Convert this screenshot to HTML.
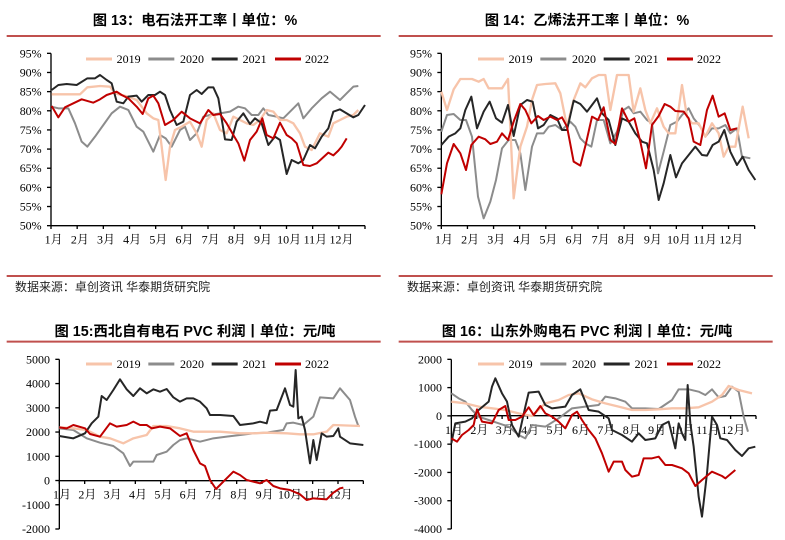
<!DOCTYPE html>
<html><head><meta charset="utf-8">
<style>
html,body{margin:0;padding:0;background:#fff;}
svg{display:block;}
text{font-family:"Liberation Serif","Noto Serif CJK SC",serif;fill:#000;}
.t{font-family:"Liberation Sans","Noto Sans CJK SC",sans-serif;font-weight:bold;font-size:43px;}
.s{font-family:"Liberation Sans","Noto Sans CJK SC",sans-serif;font-size:36px;fill:#222;}
.tk{font-size:36px;}
</style></head><body>
<svg id="s" width="785" height="540" viewBox="0 0 785 540" xmlns="http://www.w3.org/2000/svg"></svg>
<script>
const NS="http://www.w3.org/2000/svg";
const S=document.getElementById('s');
const C={a:"#f7c4aa",b:"#8c8c8c",c:"#262626",d:"#c00000"};
function el(p,n,at,txt){const e=document.createElementNS(NS,n);for(const k in at)e.setAttribute(k,at[k]);if(txt!=null)e.textContent=txt;p.appendChild(e);return e;}
function panel(o){
 const g=el(S,'g',{transform:`translate(${o.ox},${o.oy}) scale(0.33333)`});
 el(g,'text',{x:585,y:o.ty,'text-anchor':'middle',class:'t'},o.title);
 el(g,'line',{x1:20,x2:1142,y1:o.ly,y2:o.ly,stroke:'#c0504d','stroke-width':6});
 if(o.src){el(g,'line',{x1:20,x2:1142,y1:828,y2:828,stroke:'#c0504d','stroke-width':6});
  el(g,'text',{x:45,y:873,class:'s'},'数据来源：卓创资讯 华泰期货研究院');}
 el(g,'line',{x1:o.ax,x2:o.ax,y1:o.y0,y2:o.y1,stroke:'#000','stroke-width':4});
 for(let i=0;i<o.yl.length;i++){const y=o.y0+(o.y1-o.y0)*i/(o.yl.length-1);
  el(g,'line',{x1:o.ax-12,x2:o.ax,y1:y,y2:y,stroke:'#000','stroke-width':4});
  el(g,'text',{x:o.ax-28,y:y+12,'text-anchor':'end',class:'tk'},o.yl[i]);}
 el(g,'line',{x1:o.ax,x2:o.xr,y1:o.xy,y2:o.xy,stroke:'#000','stroke-width':4});
 const sp=(o.xr-o.ax)/12;
 for(let i=0;i<=12;i++){const x=o.ax+sp*i;el(g,'line',{x1:x,x2:x,y1:o.xy,y2:o.xy+10,stroke:'#000','stroke-width':4});}
 for(let i=0;i<12;i++){el(g,'text',{x:o.ax+sp*i+8,y:o.ml,'text-anchor':'middle',class:'tk'},(i+1)+'月');}
 const L=[[258,350,'a','2019'],[445,540,'b','2020'],[635,728,'c','2021'],[825,915,'d','2022']];
 for(const [x,tx,c,n] of L){el(g,'line',{x1:x,x2:x+78,y1:o.lg,y2:o.lg,stroke:C[c],'stroke-width':9});
  el(g,'text',{x:tx,y:o.lg+12,class:'tk'},n);}
 for(const k of ['b','a','c','d']){const pts=o.d[k].map(p=>p.join(',')).join(' ');
  el(g,'polyline',{points:pts,fill:'none',stroke:C[k],'stroke-width':k=='a'?7:6,'stroke-linejoin':'round'});}
}
const P=s=>s.trim().split(/\)\s*,?\s*\(/).map(t=>t.replace(/[()]/g,'').split(',').map(Number));
panel({ox:0,oy:0,ty:75,ly:108,src:1,title:'图 13：电石法开工率丨单位：%',ax:153,y0:160,y1:677,xy:677,xr:1095,ml:730,lg:177,
 yl:['95%','90%','85%','80%','75%','70%','65%','60%','55%','50%'],
 d:{a:P('(155,283),(200,283),(240,283),(262,262),(300,258),(330,260),(345,280),(385,290),(410,300),(440,340),(460,355),(475,360),(485,440),(497,540),(510,440),(525,390),(545,380),(570,365),(590,400),(605,440),(620,360),(640,340),(660,390),(680,400),(700,350),(720,360),(740,370),(760,375),(780,360),(800,330),(820,335),(840,360),(860,360),(880,370),(900,400),(915,440),(935,450),(960,400),(985,410),(1000,370),(1020,360),(1040,350),(1060,345),(1075,330)'),
 b:P('(155,320),(175,325),(205,325),(225,370),(245,425),(262,440),(285,410),(310,375),(335,340),(360,320),(385,330),(410,380),(430,395),(460,455),(480,405),(497,415),(515,440),(540,390),(555,380),(570,420),(590,400),(610,350),(630,345),(660,340),(690,335),(715,320),(735,325),(755,345),(775,345),(790,325),(805,345),(830,350),(850,355),(870,335),(895,310),(910,355),(935,325),(965,295),(990,275),(1020,300),(1040,280),(1060,260),(1075,258)'),
 c:P('(155,270),(175,255),(200,252),(230,255),(262,235),(285,235),(300,225),(320,240),(335,250),(350,305),(370,310),(385,290),(410,287),(425,305),(445,285),(465,285),(480,275),(495,285),(510,330),(530,375),(550,365),(570,285),(590,270),(605,282),(625,262),(640,262),(655,295),(675,418),(695,420),(710,365),(730,340),(750,372),(765,355),(785,370),(805,435),(825,410),(840,420),(860,522),(875,480),(895,490),(910,480),(930,435),(945,445),(965,410),(985,385),(1000,335),(1020,328),(1040,340),(1060,352),(1075,345),(1095,315)'),
 d:P('(155,318),(175,352),(195,322),(220,310),(245,298),(280,308),(300,298),(320,285),(350,275),(365,285),(385,295),(410,320),(428,342),(445,295),(460,287),(475,310),(495,375),(520,360),(545,335),(570,355),(600,370),(625,330),(640,345),(660,342),(680,370),(700,405),(715,430),(733,482),(750,420),(770,395),(787,355),(800,405),(820,415),(840,368),(860,405),(875,415),(890,430),(910,495),(930,498),(950,490),(985,458),(1000,466),(1015,452),(1025,440),(1040,415)')}});
panel({ox:392,oy:0,ty:75,ly:108,src:1,title:'图 14：乙烯法开工率丨单位：%',ax:148,y0:160,y1:677,xy:677,xr:1088,ml:730,lg:177,
 yl:['95%','90%','85%','80%','75%','70%','65%','60%','55%','50%'],
 d:{a:P('(148,275),(165,330),(185,268),(205,237),(240,237),(260,245),(275,237),(290,265),(330,265),(348,237),(365,595),(385,440),(405,380),(420,300),(435,255),(460,252),(490,250),(505,280),(525,380),(545,300),(565,250),(580,262),(600,235),(620,225),(640,225),(655,330),(675,225),(710,225),(725,335),(745,265),(760,330),(775,370),(795,325),(815,380),(830,400),(850,400),(870,255),(885,350),(900,370),(920,370),(940,410),(960,370),(980,400),(995,470),(1010,440),(1030,440),(1052,320),(1070,415)'),
 b:P('(148,395),(165,345),(185,342),(205,360),(222,360),(240,410),(258,590),(275,655),(295,605),(312,540),(330,445),(350,420),(370,420),(385,460),(400,570),(420,440),(435,400),(455,400),(470,380),(490,375),(510,390),(535,365),(550,380),(565,415),(580,430),(598,440),(615,360),(635,360),(655,430),(675,395),(695,330),(710,320),(725,340),(745,335),(765,360),(780,370),(798,520),(815,455),(835,375),(855,365),(870,345),(890,325),(905,355),(925,380),(940,410),(960,385),(980,385),(1000,375),(1015,400),(1035,385),(1050,470),(1075,475)'),
 c:P('(148,435),(170,410),(190,400),(205,385),(220,330),(238,290),(255,385),(275,335),(293,305),(312,355),(330,368),(348,315),(365,408),(385,315),(405,300),(422,305),(438,385),(455,375),(475,345),(495,355),(510,390),(525,390),(545,302),(565,312),(585,335),(600,315),(615,295),(630,340),(650,360),(670,435),(690,355),(710,365),(730,400),(750,425),(765,430),(785,510),(800,600),(815,550),(835,465),(852,532),(870,490),(890,465),(910,440),(930,465),(945,467),(962,435),(980,425),(997,390),(1015,455),(1035,495),(1052,470),(1070,510),(1090,540)'),
 d:P('(148,583),(165,490),(185,432),(205,460),(222,510),(238,435),(260,410),(280,418),(295,432),(315,425),(330,400),(348,420),(365,365),(385,312),(400,330),(418,370),(438,348),(455,360),(475,350),(495,360),(510,352),(525,380),(545,485),(565,497),(582,430),(600,350),(618,360),(635,322),(655,420),(670,432),(690,325),(710,365),(727,355),(745,425),(762,505),(780,375),(800,348),(818,312),(835,320),(850,333),(875,335),(890,355),(905,425),(925,435),(945,330),(962,287),(980,350),(998,340),(1015,390),(1035,385)')}});
panel({ox:0,oy:310,ty:78,ly:95,title:'图 15:西北自有电石 PVC 利润丨单位：元/吨',ax:178,y0:148,y1:657,xy:512,xr:1090,ml:565,lg:162,
 yl:['5000','4000','3000','2000','1000','0','-1000','-2000'],
 d:{a:P('(178,352),(220,355),(260,360),(300,380),(330,385),(370,400),(400,385),(440,375),(460,348),(500,348),(540,355),(580,365),(620,365),(660,365),(720,370),(760,370),(800,368),(860,370),(900,373),(940,373),(980,365),(1000,345),(1080,348)'),
 b:P('(178,355),(220,360),(260,385),(300,398),(340,408),(370,430),(390,468),(400,455),(420,455),(460,455),(470,435),(500,425),(520,405),(540,390),(560,385),(600,395),(640,385),(680,380),(720,375),(760,370),(800,368),(850,360),(860,340),(880,338),(910,345),(940,320),(960,262),(1000,265),(1020,235),(1050,270),(1065,320),(1075,348)'),
 c:P('(178,378),(220,385),(255,370),(275,340),(295,320),(305,258),(320,270),(340,240),(360,208),(380,238),(400,258),(420,235),(440,250),(460,238),(480,245),(500,237),(520,262),(540,275),(560,265),(580,265),(600,275),(620,295),(630,315),(660,315),(700,318),(720,345),(760,340),(780,335),(800,340),(810,302),(830,300),(855,235),(870,285),(880,290),(887,180),(895,325),(905,320),(915,360),(930,460),(940,390),(950,450),(965,370),(980,380),(1000,378),(1015,355),(1020,380),(1050,400),(1090,405)'),
 d:P('(178,352),(200,355),(220,345),(255,355),(270,372),(300,380),(330,340),(350,350),(380,345),(400,335),(420,345),(440,345),(455,355),(480,350),(510,355),(540,378),(560,370),(580,420),(600,460),(615,468),(630,510),(648,537),(660,525),(680,505),(700,485),(720,495),(740,510),(760,515),(780,520),(800,510),(820,528),(840,535),(870,540),(900,553),(920,570),(940,565),(980,568),(1000,548),(1020,535),(1030,533)')}});
panel({ox:392,oy:310,ty:78,ly:95,title:'图 16：山东外购电石 PVC 利润丨单位：元/吨',ax:178,y0:148,y1:657,xy:317,xr:1092,ml:372,lg:162,
 yl:['2000','1000','0','-1000','-2000','-3000','-4000'],
 d:{a:P('(178,275),(220,280),(260,290),(300,295),(340,300),(380,310),(420,318),(460,280),(500,270),(530,255),(560,250),(600,268),(640,280),(680,290),(720,300),(760,300),(800,298),(840,295),(880,295),(920,292),(960,275),(990,255),(1010,228),(1040,240),(1080,250)'),
 b:P('(178,250),(200,265),(220,275),(240,300),(260,320),(290,330),(320,340),(350,350),(380,375),(400,385),(420,345),(460,350),(500,325),(540,295),(580,290),(620,285),(640,260),(670,265),(700,275),(720,295),(760,295),(800,297),(840,270),(860,238),(890,238),(920,245),(940,255),(960,238),(980,262),(1000,258),(1020,230),(1040,245),(1055,320),(1068,365)'),
 c:P('(178,400),(190,340),(220,335),(240,325),(260,300),(290,275),(300,230),(310,205),(330,250),(345,275),(360,345),(380,380),(400,290),(410,248),(440,245),(460,285),(480,295),(520,290),(540,255),(565,238),(590,300),(620,305),(650,325),(660,360),(690,375),(720,395),(740,370),(760,390),(790,385),(810,345),(830,335),(850,415),(860,340),(870,370),(880,390),(887,225),(895,340),(905,410),(920,560),(930,620),(945,490),(960,320),(975,345),(985,385),(1005,390),(1030,420),(1050,438),(1070,415),(1090,410)'),
 d:P('(178,385),(195,395),(210,375),(230,360),(245,345),(255,298),(270,335),(300,340),(320,300),(340,288),(350,330),(370,330),(390,320),(410,292),(425,315),(445,288),(460,310),(480,320),(500,335),(520,355),(540,315),(555,305),(570,330),(590,360),(610,385),(630,430),(650,485),(665,455),(690,455),(700,480),(720,500),(740,495),(755,445),(780,445),(800,440),(820,465),(840,465),(870,475),(890,490),(910,528),(930,510),(960,485),(990,498),(1000,505),(1030,480)')}});
</script>
</body></html>
